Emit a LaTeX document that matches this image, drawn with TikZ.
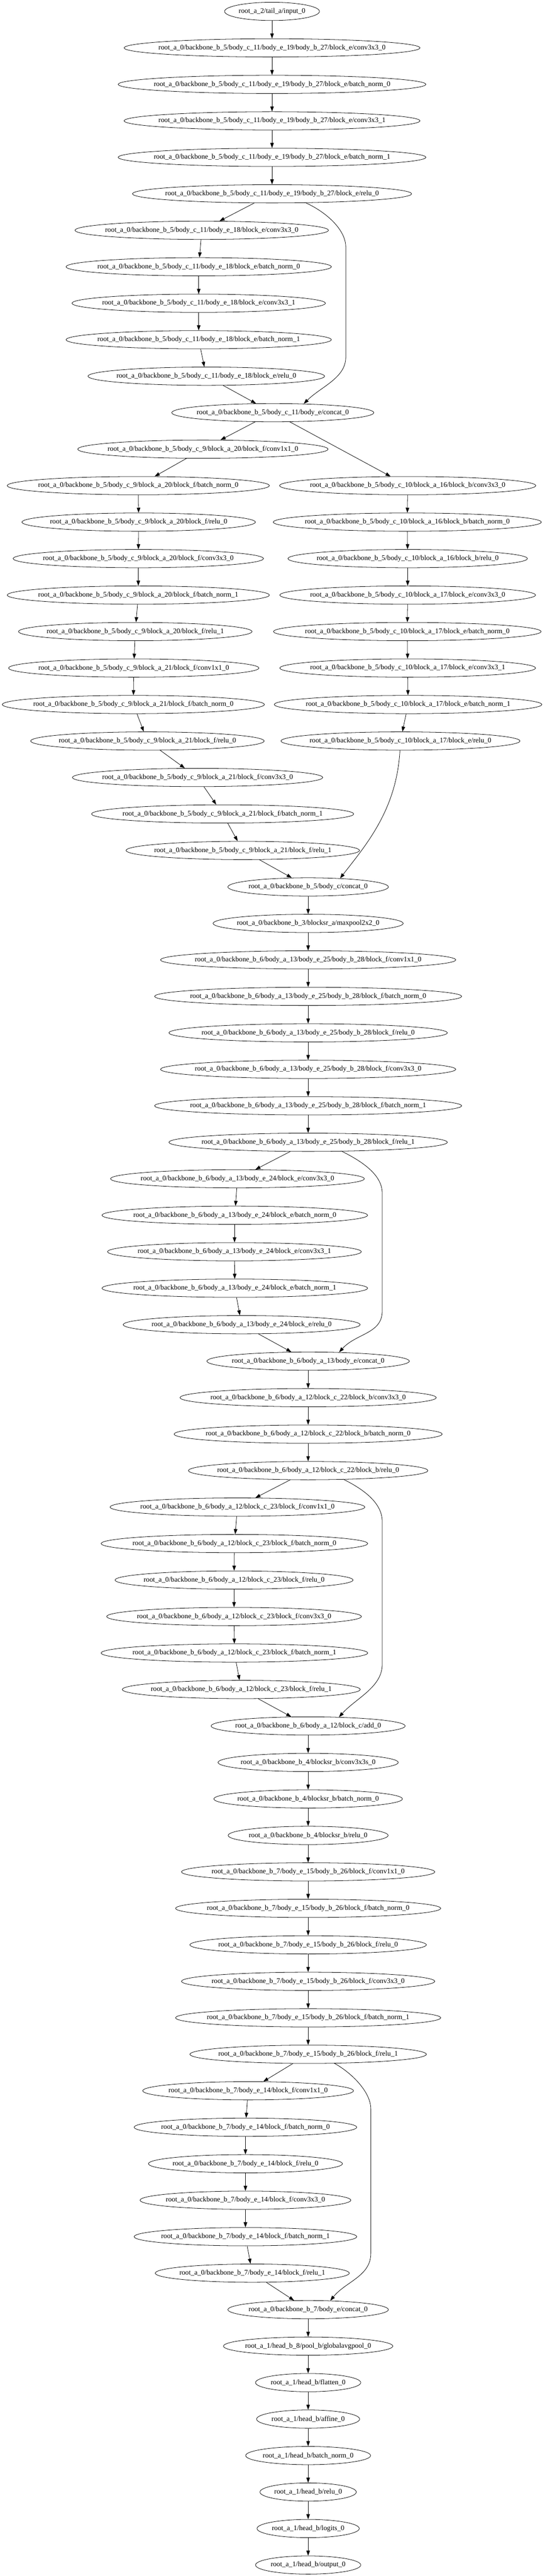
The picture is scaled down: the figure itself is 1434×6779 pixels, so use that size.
\documentclass[tikz,border=0pt]{standalone}
\usepackage{fontspec}
\setmainfont{Liberation Serif}
\usetikzlibrary{shapes.geometric, arrows.meta}
\newcommand\opfont{\fontsize{14}{16}\selectfont}
\font\opmeasure="Liberation Serif" at 14pt
\newlength\oplen
\tikzstyle{opellipse} = [
    ellipse,
    draw=black,
    line width=0.8pt,
    inner xsep=-80pt,
    inner ysep=0pt,
    minimum height=36pt,
    font=\opfont
]
\tikzstyle{flow} = [
    draw=black,
    line width=0.8pt,
    -{Triangle[length=10pt,width=7pt]}
]
\newcommand\opn[3]{%
    \settowidth\oplen{\opmeasure\detokenize{#3}}%
    \node[opellipse, minimum width={1.4142*(0.886*\oplen+16pt)}] (#1) at (#2) {\detokenize{#3}};}

\begin{document}
\begin{tikzpicture}[x=0.75pt, y=-0.75pt]
            \fill[white] (0,0) rectangle (1434,6779);
            \useasboundingbox (0,0) rectangle (1434,6779);

            \opn{in0}{716,30}{root_a_2/tail_a/input_0}
            \opn{b27conv0}{716,126}{root_a_0/backbone_b_5/body_c_11/body_e_19/body_b_27/block_e/conv3x3_0}
            \opn{b27bn0}{716,222}{root_a_0/backbone_b_5/body_c_11/body_e_19/body_b_27/block_e/batch_norm_0}
            \opn{b27conv1}{716,318}{root_a_0/backbone_b_5/body_c_11/body_e_19/body_b_27/block_e/conv3x3_1}
            \opn{b27bn1}{716,414}{root_a_0/backbone_b_5/body_c_11/body_e_19/body_b_27/block_e/batch_norm_1}
            \opn{b27relu0}{716,510}{root_a_0/backbone_b_5/body_c_11/body_e_19/body_b_27/block_e/relu_0}
            \opn{e18conv0}{531,606}{root_a_0/backbone_b_5/body_c_11/body_e_18/block_e/conv3x3_0}
            \opn{e18bn0}{523,702}{root_a_0/backbone_b_5/body_c_11/body_e_18/block_e/batch_norm_0}
            \opn{e18conv1}{523,798}{root_a_0/backbone_b_5/body_c_11/body_e_18/block_e/conv3x3_1}
            \opn{e18bn1}{523,894}{root_a_0/backbone_b_5/body_c_11/body_e_18/block_e/batch_norm_1}
            \opn{e18relu0}{543,990}{root_a_0/backbone_b_5/body_c_11/body_e_18/block_e/relu_0}
            \opn{c11cat}{718,1086}{root_a_0/backbone_b_5/body_c_11/body_e/concat_0}

            \opn{a20conv1x1}{534,1182}{root_a_0/backbone_b_5/body_c_9/block_a_20/block_f/conv1x1_0}
            \opn{a20bn0}{364,1278}{root_a_0/backbone_b_5/body_c_9/block_a_20/block_f/batch_norm_0}
            \opn{a20relu0}{365,1374}{root_a_0/backbone_b_5/body_c_9/block_a_20/block_f/relu_0}
            \opn{a20conv3}{364,1470}{root_a_0/backbone_b_5/body_c_9/block_a_20/block_f/conv3x3_0}
            \opn{a20bn1}{364,1566}{root_a_0/backbone_b_5/body_c_9/block_a_20/block_f/batch_norm_1}
            \opn{a20relu1}{356,1662}{root_a_0/backbone_b_5/body_c_9/block_a_20/block_f/relu_1}
            \opn{a21conv1x1}{352,1758}{root_a_0/backbone_b_5/body_c_9/block_a_21/block_f/conv1x1_0}
            \opn{a21bn0}{351,1854}{root_a_0/backbone_b_5/body_c_9/block_a_21/block_f/batch_norm_0}
            \opn{a21relu0}{388,1950}{root_a_0/backbone_b_5/body_c_9/block_a_21/block_f/relu_0}
            \opn{a21conv3}{520,2046}{root_a_0/backbone_b_5/body_c_9/block_a_21/block_f/conv3x3_0}
            \opn{a21bn1}{586,2142}{root_a_0/backbone_b_5/body_c_9/block_a_21/block_f/batch_norm_1}
            \opn{a21relu1}{639,2238}{root_a_0/backbone_b_5/body_c_9/block_a_21/block_f/relu_1}

            \opn{a16conv}{1073,1278}{root_a_0/backbone_b_5/body_c_10/block_a_16/block_b/conv3x3_0}
            \opn{a16bn}{1072,1374}{root_a_0/backbone_b_5/body_c_10/block_a_16/block_b/batch_norm_0}
            \opn{a16relu}{1073,1470}{root_a_0/backbone_b_5/body_c_10/block_a_16/block_b/relu_0}
            \opn{a17conv0}{1073,1566}{root_a_0/backbone_b_5/body_c_10/block_a_17/block_e/conv3x3_0}
            \opn{a17bn0}{1072,1662}{root_a_0/backbone_b_5/body_c_10/block_a_17/block_e/batch_norm_0}
            \opn{a17conv1}{1073,1758}{root_a_0/backbone_b_5/body_c_10/block_a_17/block_e/conv3x3_1}
            \opn{a17bn1}{1074,1854}{root_a_0/backbone_b_5/body_c_10/block_a_17/block_e/batch_norm_1}
            \opn{a17relu}{1054,1950}{root_a_0/backbone_b_5/body_c_10/block_a_17/block_e/relu_0}

            \opn{c5cat}{811,2334}{root_a_0/backbone_b_5/body_c/concat_0}
            \opn{pool3}{811,2430}{root_a_0/backbone_b_3/blocksr_a/maxpool2x2_0}
            \opn{b28conv1x1}{811,2526}{root_a_0/backbone_b_6/body_a_13/body_e_25/body_b_28/block_f/conv1x1_0}
            \opn{b28bn0}{811,2622}{root_a_0/backbone_b_6/body_a_13/body_e_25/body_b_28/block_f/batch_norm_0}
            \opn{b28relu0}{811,2718}{root_a_0/backbone_b_6/body_a_13/body_e_25/body_b_28/block_f/relu_0}
            \opn{b28conv3}{811,2814}{root_a_0/backbone_b_6/body_a_13/body_e_25/body_b_28/block_f/conv3x3_0}
            \opn{b28bn1}{811,2910}{root_a_0/backbone_b_6/body_a_13/body_e_25/body_b_28/block_f/batch_norm_1}
            \opn{b28relu1}{811,3006}{root_a_0/backbone_b_6/body_a_13/body_e_25/body_b_28/block_f/relu_1}
            \opn{e24conv0}{625,3102}{root_a_0/backbone_b_6/body_a_13/body_e_24/block_e/conv3x3_0}
            \opn{e24bn0}{618,3198}{root_a_0/backbone_b_6/body_a_13/body_e_24/block_e/batch_norm_0}
            \opn{e24conv1}{617,3294}{root_a_0/backbone_b_6/body_a_13/body_e_24/block_e/conv3x3_1}
            \opn{e24bn1}{618,3390}{root_a_0/backbone_b_6/body_a_13/body_e_24/block_e/batch_norm_1}
            \opn{e24relu0}{636,3486}{root_a_0/backbone_b_6/body_a_13/body_e_24/block_e/relu_0}
            \opn{a13cat}{811,3582}{root_a_0/backbone_b_6/body_a_13/body_e/concat_0}

            \opn{c22conv}{811,3678}{root_a_0/backbone_b_6/body_a_12/block_c_22/block_b/conv3x3_0}
            \opn{c22bn}{811,3774}{root_a_0/backbone_b_6/body_a_12/block_c_22/block_b/batch_norm_0}
            \opn{c22relu}{811,3870}{root_a_0/backbone_b_6/body_a_12/block_c_22/block_b/relu_0}
            \opn{c23conv1x1}{625,3966}{root_a_0/backbone_b_6/body_a_12/block_c_23/block_f/conv1x1_0}
            \opn{c23bn0}{617,4062}{root_a_0/backbone_b_6/body_a_12/block_c_23/block_f/batch_norm_0}
            \opn{c23relu0}{616,4158}{root_a_0/backbone_b_6/body_a_12/block_c_23/block_f/relu_0}
            \opn{c23conv3}{616,4254}{root_a_0/backbone_b_6/body_a_12/block_c_23/block_f/conv3x3_0}
            \opn{c23bn1}{617,4350}{root_a_0/backbone_b_6/body_a_12/block_c_23/block_f/batch_norm_1}
            \opn{c23relu1}{635,4446}{root_a_0/backbone_b_6/body_a_12/block_c_23/block_f/relu_1}
            \opn{c12add}{811,4542}{root_a_0/backbone_b_6/body_a_12/block_c/add_0}

            \opn{srconv}{811,4638}{root_a_0/backbone_b_4/blocksr_b/conv3x3s_0}
            \opn{srbn}{811,4734}{root_a_0/backbone_b_4/blocksr_b/batch_norm_0}
            \opn{srrelu}{811,4830}{root_a_0/backbone_b_4/blocksr_b/relu_0}
            \opn{b26conv1x1}{811,4926}{root_a_0/backbone_b_7/body_e_15/body_b_26/block_f/conv1x1_0}
            \opn{b26bn0}{811,5022}{root_a_0/backbone_b_7/body_e_15/body_b_26/block_f/batch_norm_0}
            \opn{b26relu0}{811,5118}{root_a_0/backbone_b_7/body_e_15/body_b_26/block_f/relu_0}
            \opn{b26conv3}{811,5214}{root_a_0/backbone_b_7/body_e_15/body_b_26/block_f/conv3x3_0}
            \opn{b26bn1}{811,5310}{root_a_0/backbone_b_7/body_e_15/body_b_26/block_f/batch_norm_1}
            \opn{b26relu1}{811,5406}{root_a_0/backbone_b_7/body_e_15/body_b_26/block_f/relu_1}
            \opn{e14conv1x1}{653,5502}{root_a_0/backbone_b_7/body_e_14/block_f/conv1x1_0}
            \opn{e14bn0}{646,5598}{root_a_0/backbone_b_7/body_e_14/block_f/batch_norm_0}
            \opn{e14relu0}{646,5694}{root_a_0/backbone_b_7/body_e_14/block_f/relu_0}
            \opn{e14conv3}{646,5790}{root_a_0/backbone_b_7/body_e_14/block_f/conv3x3_0}
            \opn{e14bn1}{646,5886}{root_a_0/backbone_b_7/body_e_14/block_f/batch_norm_1}
            \opn{e14relu1}{664,5982}{root_a_0/backbone_b_7/body_e_14/block_f/relu_1}
            \opn{b7cat}{811,6078}{root_a_0/backbone_b_7/body_e/concat_0}

            \opn{gap}{811,6174}{root_a_1/head_b_8/pool_b/globalavgpool_0}
            \opn{flat}{811,6270}{root_a_1/head_b/flatten_0}
            \opn{aff}{811,6366}{root_a_1/head_b/affine_0}
            \opn{hbn}{811,6462}{root_a_1/head_b/batch_norm_0}
            \opn{hrelu}{811,6558}{root_a_1/head_b/relu_0}
            \opn{logits}{811,6654}{root_a_1/head_b/logits_0}
            \opn{out}{811,6750}{root_a_1/head_b/output_0}

            \foreach \n [remember=\n as \p (initially in0)] in {b27conv0, b27bn0, b27conv1, b27bn1, b27relu0,
                e18conv0, e18bn0, e18conv1, e18bn1, e18relu0, c11cat,
                a20conv1x1, a20bn0, a20relu0, a20conv3, a20bn1, a20relu1,
                a21conv1x1, a21bn0, a21relu0, a21conv3, a21bn1, a21relu1, c5cat, pool3,
                b28conv1x1, b28bn0, b28relu0, b28conv3, b28bn1, b28relu1,
                e24conv0, e24bn0, e24conv1, e24bn1, e24relu0, a13cat,
                c22conv, c22bn, c22relu, c23conv1x1, c23bn0, c23relu0, c23conv3, c23bn1, c23relu1, c12add,
                srconv, srbn, srrelu, b26conv1x1, b26bn0, b26relu0, b26conv3, b26bn1, b26relu1,
                e14conv1x1, e14bn0, e14relu0, e14conv3, e14bn1, e14relu1, b7cat,
                gap, flat, aff, hbn, hrelu, logits, out}
                \draw[flow] (\p) -- (\n);
            \foreach \n [remember=\n as \p (initially c11cat)] in {a16conv, a16bn, a16relu,
                a17conv0, a17bn0, a17conv1, a17bn1, a17relu}
                \draw[flow] (\p) -- (\n);

            \coordinate (v1a) at (910,650);
            \coordinate (v1b) at (910,940);
            \coordinate (v4a) at (1006,3140);
            \coordinate (v4b) at (1006,3450);
            \coordinate (v5a) at (1006,4004);
            \coordinate (v5b) at (1006,4380);
            \coordinate (v6a) at (976,5550);
            \coordinate (v6b) at (976,5930);

            \draw[flow] (b27relu0.-15) .. controls +(55,25) and +(0,-45) .. (v1a) -- (v1b) .. controls +(0,55) and +(45,-45) .. (c11cat.16);
            \draw[flow] (a17relu) .. controls +(-10,180) and +(70,-90) .. (c5cat.15);
            \draw[flow] (b28relu1.-15) .. controls +(50,25) and +(0,-50) .. (v4a) -- (v4b) .. controls +(0,60) and +(45,-50) .. (a13cat.16);
            \draw[flow] (c22relu.-14) .. controls +(50,25) and +(0,-50) .. (v5a) -- (v5b) .. controls +(0,60) and +(45,-50) .. (c12add.16);
            \draw[flow] (b26relu1.-19) .. controls +(45,25) and +(0,-45) .. (v6a) -- (v6b) .. controls +(0,60) and +(40,-50) .. (b7cat.22);
        \end{tikzpicture}
\end{document}
